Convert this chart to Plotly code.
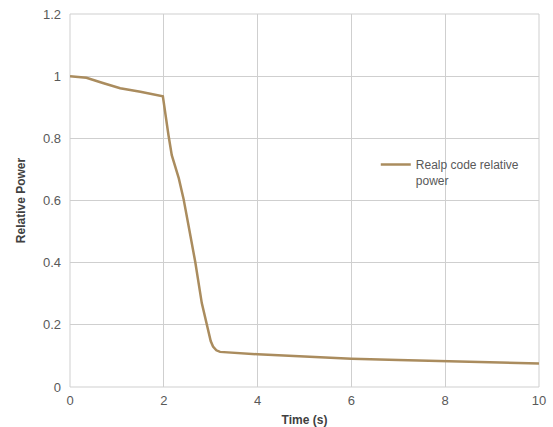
import plotly.graph_objects as go

# Relative power trace over time
time_s = [0.0, 0.35, 0.7, 1.07, 1.5, 1.98, 2.1, 2.17, 2.32, 2.42, 2.52, 2.67, 2.81, 2.95, 3.0, 3.05, 3.12, 3.2, 4.0, 5.0, 6.0, 7.0, 8.0, 9.0, 10.0]
rel_power = [1.0, 0.995, 0.978, 0.961, 0.95, 0.935, 0.81, 0.746, 0.671, 0.606, 0.525, 0.403, 0.27, 0.172, 0.148, 0.13, 0.118, 0.113, 0.105, 0.098, 0.091, 0.087, 0.083, 0.08, 0.076]

x_ticks = [0, 2, 4, 6, 8, 10]
y_ticks = [0, 0.2, 0.4, 0.6, 0.8, 1, 1.2]
y_tick_text = ["0", "0.2", "0.4", "0.6", "0.8", "1", "1.2"]

line_color = "#AA8C5E"
grid_color = "#CFCFCF"
text_color = "#595959"
font_family = "Liberation Sans, Arial, sans-serif"

fig = go.Figure()
fig.add_trace(go.Scatter(
    x=time_s, y=rel_power, mode="lines",
    name="Realp code relative<br>power",
    line=dict(color=line_color, width=2.5),
))

fig.update_layout(
    width=553, height=427,
    margin=dict(l=70, r=14, t=14, b=40, autoexpand=False),
    paper_bgcolor="white", plot_bgcolor="white",
    font=dict(family=font_family, size=12, color=text_color),
    showlegend=True,
    legend=dict(x=0.652, y=0.635, xanchor="left", yanchor="top",
                bgcolor="rgba(0,0,0,0)", valign="top",
                font=dict(size=12, color=text_color)),
    xaxis=dict(
        range=[0, 10], tickvals=x_ticks, showgrid=True, gridcolor=grid_color,
        gridwidth=1, zeroline=False, showline=False, ticks="", automargin=False,
        tickfont=dict(size=13, color=text_color), ticklabelstandoff=4,
        title=dict(text="<b>Time (s)</b>", font=dict(size=12, color="#404040"), standoff=8),
    ),
    yaxis=dict(
        range=[0, 1.2], tickvals=y_ticks, ticktext=y_tick_text, showgrid=True,
        gridcolor=grid_color, gridwidth=1, zeroline=False, showline=False, ticks="",
        automargin=False,
        tickfont=dict(size=13, color=text_color), ticklabelstandoff=8,
        title=dict(text="<b>Relative Power</b>", font=dict(size=12, color="#404040"), standoff=14),
    ),
)

# outer frame matching the grid lines
fig.add_shape(type="rect", xref="paper", yref="paper", x0=0, y0=0, x1=1, y1=1,
              line=dict(color=grid_color, width=1), layer="below")

fig.write_html("out.html")
